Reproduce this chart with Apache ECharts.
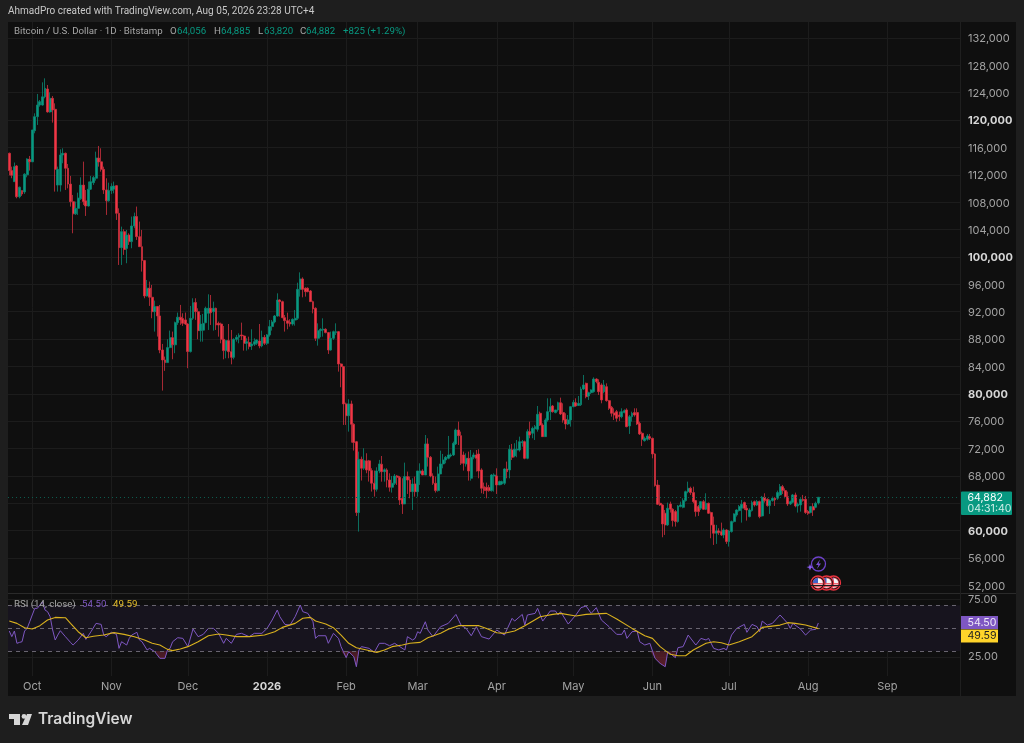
<!DOCTYPE html>
<html>
<head>
<meta charset="utf-8">
<style>html,body{margin:0;padding:0;background:#1e1e1e}#c{width:1024px;height:743px}</style>
<script src="https://cdn.jsdelivr.net/npm/echarts@6/dist/echarts.min.js"></script>
</head>
<body>
<div id="c"></div>
<script>
const startDate = '2025-09-22';
const categoryCount = 373;
const monthAt = [9,40,70,101,132,160,191,221,252,282,313,344];
const monthLabels = ['Oct','Nov','Dec','2026','Feb','Mar','Apr','May','Jun','Jul','Aug','Sep'];
const priceTicks = [52000,56000,60000,64000,68000,72000,76000,80000,84000,88000,92000,96000,100000,104000,108000,112000,116000,120000,124000,128000,132000];
const boldTicks = [60000,80000,100000,120000];
const rsiTicks = [25,75];
const lastPrice = 64882;

const opens = [
115150,112620,111000,113300,108800,109700,109500,112000,114250,113900,
118450,120500,122200,122200,123400,124550,121200,123180,121580,110500,
110500,114900,115150,112960,110650,108080,106300,107100,108500,110500,
108200,107450,109900,110850,111500,114450,113900,112800,109800,108200,
109700,109900,110420,106380,101360,103700,101250,103200,102240,104530,
105900,102970,101500,99470,94300,95430,94110,92000,92750,91380,
86400,84950,84560,86750,88200,87150,90400,91200,91000,90800,
90200,86170,91030,93350,92000,89230,89300,90400,91760,92500,
92000,92500,90300,90200,87960,86310,87770,86160,85330,87960,
88260,88600,88450,87380,87500,87000,87240,87380,87720,87000,
88250,87380,88600,89820,90500,91370,93710,93470,91130,90690,
90450,90200,90770,91030,95270,96780,95420,95420,95030,93470,
92500,88110,89230,89330,89430,88940,86400,88110,88940,89080,
84360,83970,78520,76800,78520,75550,73000,62640,70430,69120,
70200,70200,68780,66930,66050,68730,69700,68625,68870,67400,
66340,66920,67990,67800,64730,63900,67900,67400,65700,66820,
65700,68370,68720,68130,72670,70720,67990,66920,65850,68280,
69750,70330,70570,70915,71060,72670,74710,73885,71060,69750,
70570,67650,70720,71060,71200,68870,66430,66340,66290,65850,
67990,67990,66680,66820,66920,69015,68870,71790,70915,71790,
71790,72850,73000,70570,74470,74230,74860,74810,77150,75440,
73740,76170,77390,78220,77250,77640,78700,77250,76270,75590,
76170,78120,78700,78300,78400,80700,81530,79680,80170,80310,
82160,81680,81290,80310,81040,79000,78030,77200,77390,76900,
76660,77250,77640,75300,76660,77250,77250,75690,74230,73150,
73350,73740,73490,71210,66680,64000,63750,62540,60840,63900,
63120,62780,61320,63510,63410,64390,65700,66190,65560,64390,
63510,63270,64240,63120,64000,62640,60840,59620,59960,59860,
59370,60100,58400,59860,61320,62300,62930,63270,64100,63270,
62050,62930,64240,63750,64240,62150,64870,64580,63660,64390,
64730,64730,65220,66430,65850,64970,63900,64140,65220,63610,
63760,64580,64580,62780,62650,63510,63410,64056];

const closes = [
112620,111930,113200,108800,110200,109200,112100,114300,113900,118560,
120500,122200,122700,123400,124650,121200,123180,121480,112800,112800,
114900,115150,112960,110650,108080,106300,107100,108600,110500,108100,
107450,109900,111000,111600,114450,113880,112800,109800,108200,109700,
110300,110370,106380,101360,103700,101100,103200,102240,104530,105900,
102970,101500,99470,94300,95430,94110,92000,92750,91380,86400,
84950,84560,86750,88200,87150,90400,91200,90800,90300,90200,
86170,91030,93320,92000,89230,90200,90300,92500,92500,91860,
92500,90060,90060,87960,86310,87770,86160,85330,87960,88260,
88550,88450,87380,87620,86900,87280,87620,87870,87000,88250,
87380,88600,89820,90500,91370,93710,93470,91130,90690,90300,
90200,90880,91030,95270,96780,95270,94930,94930,93470,92400,
88110,89230,89430,89430,88940,86400,88110,89080,89080,84360,
83970,78520,76800,78520,75550,72870,62640,70430,69120,70240,
68870,68780,66930,66050,68730,69750,68625,68900,67400,66340,
66920,67990,67800,64480,63900,67900,67400,65700,66820,65700,
68720,68720,68130,72670,70720,67990,66920,65850,68280,69750,
70330,70720,71060,71060,72765,74710,73885,69840,69840,70570,
68720,70720,71060,70570,68720,66190,65850,65850,65850,68130,
68130,66680,67165,67165,69015,68625,71890,70720,71890,71890,
73000,73000,70570,74470,73980,74950,75200,77000,75440,73740,
76170,77390,78120,77390,77640,78705,77050,76170,75590,76170,
78120,78750,78220,78600,80700,81290,79580,80170,80560,82160,
81770,80310,79100,81290,79000,77880,77150,76900,76420,76660,
77390,77540,75200,76660,77150,76900,75590,74130,73350,73490,
73840,73490,71210,66580,63850,63750,60980,60840,63270,63120,
61470,61320,63610,63750,64390,65700,66190,65560,64240,62780,
62780,64240,63120,64000,62540,60840,59620,59960,59720,59370,
60100,58400,59960,61320,62440,63020,63510,63850,63270,63020,
63020,64100,63750,64240,62050,64870,64390,63660,64390,64730,
64490,65560,66430,65850,64970,63900,64240,65220,63610,63850,
64580,64400,62650,62540,63510,63020,64000,64882];

const lows = [
111930,111500,111010,108570,108570,108920,109210,111640,112620,113900,
118070,119290,121960,122110,123180,121090,121090,119630,109550,109550,
109550,113690,109790,110030,107360,103460,106140,106140,108330,107600,
105990,107360,109790,110520,111150,113200,112470,109210,106140,108090,
109210,109300,105410,98830,98830,100300,99080,101760,101270,104190,
102490,101510,97860,93960,94200,92840,91040,89090,88360,85930,
80470,83350,84560,86660,85050,85930,90070,90070,89920,90070,
83740,86030,90800,90800,87970,87620,87620,90300,89330,90060,
89230,89330,88350,87380,85040,85190,85190,84310,85040,87620,
87380,87870,86310,86310,86500,86410,86990,87140,86650,86800,
87140,87140,88350,89230,90300,91280,91280,91030,89090,89430,
89815,89960,89960,90790,94200,94100,94200,94830,93470,91760,
87720,87040,88260,88350,88840,85820,86310,87870,88600,83240,
80950,75450,75450,74470,72870,71700,62150,59860,67320,68880,
68390,67170,65710,64980,65710,68390,67160,67160,66330,65700,
65560,66680,66680,63750,62440,63900,65360,64730,63020,64970,
64970,66680,68130,68130,69360,67800,66680,65560,65700,68280,
69110,69840,70430,70720,70910,72520,72520,69600,68770,69360,
67310,67310,70430,68630,67650,65460,65360,64730,65700,65700,
65700,65360,66680,66680,66680,67650,67650,70330,70720,70720,
71550,72280,70430,70430,73500,73500,73250,74470,75300,73740,
73740,75930,76170,77250,77150,77390,76900,75780,74810,75440,
75200,78030,78120,78220,78220,80560,79340,79100,79970,80170,
81530,79830,78610,80070,78850,77640,76660,76170,75930,76030,
76420,77150,75100,74130,75930,76660,75440,73980,72380,73010,
73150,73250,70570,66430,63750,63610,59030,59370,60690,62640,
60590,60590,61170,63410,63270,64240,65460,65220,64000,62050,
62150,63020,63020,63020,62440,58890,57910,58060,59370,59230,
58890,58060,57670,59710,61170,62050,62780,61170,63020,61470,
61950,62780,63510,63610,61810,62050,64100,63510,62440,64240,
63610,64490,65070,65360,64730,63610,63750,64000,63410,62640,
62780,64240,62440,62300,62540,62150,63270,63820];

const highs = [
115250,113200,113800,113440,110280,109690,112230,114420,114760,118560,
120990,123820,122940,125520,126105,125130,124060,123520,122450,113200,
115730,115880,115250,113590,111840,109060,108090,109400,111640,113930,
109790,111010,111840,111840,115390,116220,115880,113200,111500,110860,
110760,111010,110520,107110,104430,104040,103950,103460,105900,106480,
107360,105170,103950,99560,96640,96400,95910,93620,92840,92990,
87290,85440,87970,89240,89090,90550,91870,92990,91770,91870,
90310,92840,93960,93960,92500,91520,91670,92740,94540,94440,
93470,92590,90550,90400,89910,87870,90200,89330,88110,88600,
88840,90400,88600,88110,88350,89430,88110,87960,90200,89230,
88600,88740,90790,90790,91520,94685,93810,93610,91520,91860,
90890,91030,92250,96240,97750,97020,95560,95560,95170,93610,
92640,90300,89570,91030,89570,89040,89090,89230,90300,89180,
84460,84070,78710,79200,79000,75690,73110,71550,70820,72040,
71310,70340,69120,68780,69260,70340,70910,69110,69110,68380,
67990,68280,68140,67990,67650,69940,68630,67900,67650,67900,
68720,69840,68970,73980,73500,70910,68380,67900,69360,71690,
71210,70910,73840,71300,73010,74910,75930,74470,71550,71300,
71550,71790,71400,71790,71890,69110,67020,67020,66680,68280,
68380,69110,67310,67310,69110,70090,72520,72670,72770,73250,
73740,73250,73150,74810,75930,75200,75440,78220,77390,75690,
76420,79340,79340,78360,77640,78850,79440,78610,77150,76900,
78220,79100,79340,79680,81040,82750,81630,80310,80650,82410,
82260,82120,81530,82020,81530,79100,78220,77880,77640,77390,
77880,77730,77880,76900,77390,77880,77880,75930,74470,73740,
74130,74130,73590,71300,67410,66680,63850,63020,64100,64240,
63270,63020,63750,64240,64730,65850,67160,66430,66430,64490,
63750,64340,64490,65460,64100,62780,62050,60840,60350,61170,
60350,60200,60100,61470,62540,63120,63750,64490,64240,63750,
63270,64390,64390,64490,64390,65070,65460,64730,64580,64970,
64880,65850,66820,66680,66190,65700,64390,65360,65560,64100,
64730,65220,65070,63020,63610,64000,64240,64885];

const rsiAt = [0,1,2,3,4,5,6,7,8,9,10,11,12,13,14,15,16,17,18,19,20,22,24,25,27,29,30,32,34,36,37,38,40,42,43,44,46,47,48,50,51,52,54,55,57,59,61,62,63,64,66,68,70,72,74,76,78,80,82,84,85,87,89,91,94,96,99,101,103,105,106,108,110,112,114,115,117,119,120,121,124,125,127,129,130,132,133,135,136,137,138,141,143,145,147,149,151,153,155,156,158,159,160,161,163,164,166,169,172,175,177,179,181,183,185,188,191,194,197,198,201,202,203,206,207,209,212,214,215,216,219,222,224,226,228,230,232,235,238,240,241,242,244,246,247,249,251,253,255,257,258,261,262,264,266,269,271,273,274,276,278,280,281,283,285,288,289,291,293,294,295,297,299,302,305,306,307,310,312,314,316,317];
const rsiValues = [47.5,42.6,47.5,36.8,37.6,38.2,47.5,49.8,55.6,61.5,67.3,67.3,70.2,73.1,65.8,64.4,60,48.4,39.7,44,47.8,42.6,37.6,35.3,39.7,45.5,40.2,46.9,54.2,53.3,44,42.6,46.4,44.6,32.4,38.2,35.3,41.1,44,46.4,39.7,38.2,31,32.4,29.5,23.7,23.7,31,32.4,38.2,41.7,41.1,33.9,49.3,42.6,44.6,49.8,49.8,45.5,36.8,41.1,36.8,44.6,45.5,42.6,45.5,45.5,49.8,57.1,65.8,60,53.3,52.7,60,70.2,64.4,62.9,55.6,41.1,43.4,43.4,36.8,45.5,41.1,33.9,24.3,29.5,25.1,16.4,31,33.9,32.4,28.9,36.8,36.8,34.7,36.8,33.9,31,42.6,39.7,41.1,46.9,45.5,55.6,48.4,42.6,51.3,54.2,62,52.7,49.8,43.4,51.3,42.6,40.5,48.4,44,58.6,56.2,62,52.7,61.5,62.9,67.3,56.2,65,65,61.5,64.4,53.6,61.5,67.9,69.3,62.9,67.9,57.1,51.3,44.6,44.6,48.4,41.1,46.9,47.5,38.2,35.3,36.8,23.7,19.3,16.4,29.5,24.3,33,33.9,44,35.3,41.1,39.7,41.1,32.4,31,32.4,31,44,49.8,53.3,46.4,53.3,51.3,46.9,56.2,52.7,54.2,61.5,54.2,49.8,54.2,49.3,44,48.4,49,54.5];

const rsiMaAt = [0,3,6,9,12,15,18,22,24,27,30,33,37,41,45,49,53,56,59,62,64,67,70,74,78,82,85,89,94,100,104,107,112,115,118,120,124,127,130,133,136,140,144,147,150,154,157,161,164,169,172,176,184,187,191,194,198,202,208,213,216,222,226,234,238,244,249,252,255,259,262,265,268,273,276,279,282,286,291,295,302,305,308,312,317];
const rsiMaValues = [56.2,54.2,50.4,49.3,52.2,57.1,59.4,59.1,54.2,46.9,41.7,42.9,44,46.1,44.6,42.6,39.7,36.8,35.3,31.5,30.4,31.8,33.9,38.2,43.4,44.9,44,42.6,42.6,44,46.9,50.7,54.2,58.6,59.4,56.2,53.6,50.4,44,36.8,33,31,28.9,31,33.9,35.3,36.8,37.6,41.7,45.5,49,52.2,52.2,49.8,46,45.5,47.5,52.2,60,62,62.9,60.6,62,62.9,58,49.8,43.4,41.1,33.9,27.2,26,26,31,36.8,38.2,37.3,35.3,38.2,42.6,50.7,52.7,54.8,54.2,52.7,49.59];

const oversoldAt = [57,59,61,62,130,132,133,135,136,137,251,253,255,257,258,261,262];
const oversoldValues = [30,23.7,23.7,30,30,24.3,29.5,25.1,16.4,30,30,23.7,19.3,16.4,29.5,24.3,30];

const GREEN = '#089981', RED = '#F23645';
const FONT = 'Inter, "Noto Sans", sans-serif';
const HEAD = 'Roboto, "Noto Sans", sans-serif';

const categories = [];
{
  const d = new Date(startDate + 'T00:00:00Z');
  for (let i = 0; i < categoryCount; i++) {
    categories.push(new Date(d.getTime() + i * 86400000).toISOString().slice(0, 10));
  }
}
const candles = opens.map((o, i) => [o, closes[i], lows[i], highs[i]]);
const pairs = (a, b) => a.map((x, i) => [x, b[i]]);
const monthSet = i => monthAt.indexOf(i) >= 0;
const fmt = v => Number(v).toLocaleString('en-US');

const chart = echarts.init(document.getElementById('c'), null, {renderer: 'canvas'});

const flag = (cx, cy) => ({
  type: 'group', z: 50, children: [
    {type:'circle', shape:{cx, cy, r:7}, style:{fill:'#0f0f0f', stroke:'#e8333f', lineWidth:1.3}},
    {type:'circle', shape:{cx, cy, r:5.2}, style:{fill:'#f4f4f4', stroke:'#d8303c', lineWidth:0.7}},
    {type:'line', shape:{x1:cx-5, y1:cy+0.8, x2:cx+5, y2:cy+0.8}, style:{stroke:'#e8333f', lineWidth:1.1}},
    {type:'line', shape:{x1:cx-3.8, y1:cy+3.2, x2:cx+3.8, y2:cy+3.2}, style:{stroke:'#e8333f', lineWidth:1.1}},
    {type:'sector', shape:{cx, cy, r:5.2, startAngle:Math.PI, endAngle:Math.PI*1.5}, style:{fill:'#3f63c8'}}
  ]
});
const txt = (x, y, text, fill, font) => ({type: 'text', z: 20, x, y, style: {text, fill, font}});
const legendFont = '9.7px ' + HEAD;
const tagFont = '10.6px ' + FONT;

const option = {
  backgroundColor: '#1e1e1e',
  animation: false,
  textStyle: {fontFamily: FONT},
  grid: [
    {left: 8, top: 22, width: 952, height: 571},
    {left: 8, top: 594, width: 952, height: 82}
  ],
  xAxis: [0, 1].map(g => ({
    type: 'category', gridIndex: g, data: categories, boundaryGap: true,
    axisLine: {show: false},
    axisTick: {show: false, alignWithLabel: true, interval: i => monthSet(i)},
    splitLine: {show: true, alignWithLabel: true, interval: i => monthSet(i), lineStyle: {color: '#1c1c1c', width: 1}},
    axisLabel: g === 0 ? {show: false} : {
      show: true, interval: i => monthSet(i), color: '#a3a3a3', fontSize: 11, margin: 5, fontFamily: FONT,
      hideOverlap: false,
      formatter: (v, i) => {
        const l = monthLabels[monthAt.indexOf(i)];
        return l === '2026' ? '{b|2026}' : (l || '');
      },
      rich: {b: {color: '#d6d6d6', fontWeight: 700, fontSize: 11, fontFamily: FONT}}
    }
  })),
  yAxis: [
    {
      type: 'value', gridIndex: 0, position: 'right', min: 50886, max: 134338, scale: true,
      axisLine: {show: false}, axisTick: {show: false, customValues: priceTicks},
      splitLine: {show: true, lineStyle: {color: '#1c1c1c', width: 1}},
      axisLabel: {
        customValues: priceTicks, color: '#a3a3a3', fontSize: 11, margin: 8, padding: [2, 0, 0, 0], fontFamily: FONT,
        formatter: v => boldTicks.indexOf(v) >= 0 ? '{b|' + fmt(v) + '}' : fmt(v),
        rich: {b: {color: '#d6d6d6', fontWeight: 700, fontSize: 11, fontFamily: FONT}}
      }
    },
    {
      type: 'value', gridIndex: 1, position: 'right', min: 8.3, max: 79.8,
      axisLine: {show: false}, axisTick: {show: false, customValues: rsiTicks},
      splitLine: {show: true, lineStyle: {color: '#1c1c1c', width: 1}},
      axisLabel: {customValues: rsiTicks, color: '#a3a3a3', fontSize: 11, margin: 8, padding: [2, 0, 0, 0], fontFamily: FONT, formatter: v => Number(v).toFixed(2)}
    }
  ],
  series: [
    {
      type: 'candlestick', xAxisIndex: 0, yAxisIndex: 0, data: candles, barWidth: 2.4, clip: true,
      itemStyle: {color: GREEN, color0: RED, borderColor: '#0a8672', borderColor0: '#cc303e', borderWidth: 0.8},
      markLine: {
        silent: true, symbol: 'none', animation: false,
        lineStyle: {color: '#0c5c4f', type: [1, 3], width: 1},
        label: {show: false},
        data: [{yAxis: lastPrice}]
      }
    },
    {
      type: 'line', xAxisIndex: 1, yAxisIndex: 1, data: pairs(oversoldAt, oversoldValues), symbol: 'none',
      lineStyle: {width: 0},
      areaStyle: {origin: 30, color: new echarts.graphic.LinearGradient(0, 0, 0, 1, [{offset: 0, color: '#5b1f2c'}, {offset: 1, color: '#7d2433'}])},
      z: 3
    },
    {
      type: 'line', xAxisIndex: 1, yAxisIndex: 1, data: pairs(rsiAt, rsiValues), symbol: 'none',
      lineStyle: {color: '#7E57C2', width: 1}, z: 4,
      markArea: {silent: true, itemStyle: {color: '#17141e'}, data: [[{yAxis: 30}, {yAxis: 70}]]},
      markLine: {
        silent: true, symbol: 'none', label: {show: false},
        lineStyle: {color: '#68646f', type: [4, 4], width: 1},
        data: [{yAxis: 70}, {yAxis: 50}, {yAxis: 30}]
      }
    },
    {
      type: 'line', xAxisIndex: 1, yAxisIndex: 1, data: pairs(rsiMaAt, rsiMaValues), symbol: 'none',
      lineStyle: {color: '#D9B11E', width: 1.1}, z: 5
    }
  ],
  graphic: [
    {type: 'rect', z: -5, shape: {x: 8, y: 22, width: 1008, height: 674}, style: {fill: '#0f0f0f'}},
    {type: 'line', z: 10, shape: {x1: 8, y1: 593.5, x2: 1016, y2: 593.5}, style: {stroke: '#2a2a2a', lineWidth: 1}},
    {type: 'line', z: 10, shape: {x1: 960.5, y1: 22, x2: 960.5, y2: 696}, style: {stroke: '#1f1f1f', lineWidth: 1}},
    txt(8, 6, 'AhmadPro created with TradingView.com, Aug 05, 2026 23:28 UTC+4', '#c8c8c8', '10px ' + HEAD),
    txt(14, 27, 'Bitcoin / U.S. Dollar · 1D · Bitstamp', '#a6a6a6', legendFont),
    txt(170, 27, 'O', '#a6a6a6', legendFont), txt(177, 27, '64,056', GREEN, legendFont),
    txt(214, 27, 'H', '#a6a6a6', legendFont), txt(221, 27, '64,885', GREEN, legendFont),
    txt(258, 27, 'L', '#a6a6a6', legendFont), txt(264, 27, '63,820', GREEN, legendFont),
    txt(300, 27, 'C', '#a6a6a6', legendFont), txt(306, 27, '64,882', GREEN, legendFont),
    txt(343, 27, '+825 (+1.29%)', GREEN, legendFont),
    txt(14, 600, 'RSI (14, close)', '#a6a6a6', legendFont),
    txt(82, 600, '54.50', '#7E57C2', legendFont),
    txt(113, 600, '49.59', '#E6BE2A', legendFont),
    {type: 'rect', z: 20, shape: {x: 961, y: 491.5, width: 51, height: 23.5, r: 1}, style: {fill: GREEN}},
    txt(967.5, 492.5, '64,882', '#ffffff', tagFont),
    txt(967.5, 503.5, '04:31:40', '#cfeee8', tagFont),
    {type: 'rect', z: 20, shape: {x: 961, y: 616, width: 37, height: 13}, style: {fill: '#7E57C2'}},
    txt(967.5, 617, '54.50', '#f0eaf8', tagFont),
    {type: 'rect', z: 20, shape: {x: 961, y: 629.5, width: 37, height: 13}, style: {fill: '#FFD42A'}},
    txt(967.5, 630.5, '49.59', '#222222', tagFont),
    {type: 'circle', z: 50, shape: {cx: 818.5, cy: 564, r: 7}, style: {fill: 'none', stroke: '#6d42c9', lineWidth: 1.3}},
    {type: 'polygon', z: 51, shape: {points: [[820, 559.5], [816, 565], [818.4, 565], [817, 569], [821, 563.5], [818.6, 563.5]]}, style: {fill: '#7a4ed6'}},
    {type: 'polygon', z: 51, shape: {points: [[810, 564], [811, 566.5], [813.5, 567], [811, 568], [810, 570.5], [809, 568], [806.5, 567], [809, 566.5]]}, style: {fill: '#8a5cf0'}},
    flag(833.5, 583), flag(826.5, 583), flag(818, 583),
    {type: 'polygon', z: 20, shape: {points: [[9, 714], [20, 714], [20, 725], [14, 725], [14, 719], [9, 719]]}, style: {fill: '#d6d6d6'}},
    {type: 'circle', z: 20, shape: {cx: 24, cy: 716.4, r: 2.4}, style: {fill: '#d6d6d6'}},
    {type: 'polygon', z: 20, shape: {points: [[27, 714], [32, 714], [28, 725], [22, 725]]}, style: {fill: '#d6d6d6'}},
    txt(38, 711, 'TradingView', '#d6d6d6', '600 15.5px ' + FONT)
  ]
};
chart.setOption(option);
</script>
</body>
</html>
